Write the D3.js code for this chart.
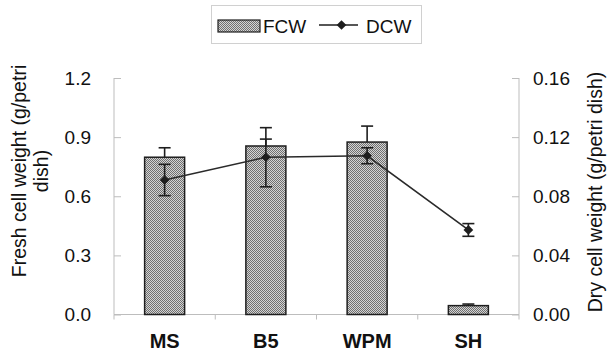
<!DOCTYPE html>
<html>
<head>
<meta charset="utf-8">
<script src="https://cdn.jsdelivr.net/npm/d3@7"></script>
<style>
  body { margin: 0; background: #fff; }
  svg { display: block; font-family: "Liberation Sans", Arial, sans-serif; }
</style>
</head>
<body>
<div id="chart"></div>
<script>
// data
const categories = ["MS", "B5", "WPM", "SH"];
const fcwValues = [0.798, 0.855, 0.875, 0.045];
const fcwErrors = [0.048, 0.035, 0.081, 0.008];
const dcwValues = [0.091, 0.1064, 0.1074, 0.0572];
const dcwErrors = [0.0106, 0.020, 0.0054, 0.0043];
const leftTicks = [0, 0.3, 0.6, 0.9, 1.2];
const rightTicks = [0, 0.04, 0.08, 0.12, 0.16];

const WIDTH = 607;
const HEIGHT = 353;
const PLOT = { left: 114, right: 519, top: 78, bottom: 314.5 };
const AXIS_COLOR = '#bdbdbd';
const INK = '#1e1e1e';

const svg = d3.select('#chart')
    .append('svg')
    .attr('width', WIDTH)
    .attr('height', HEIGHT);

// dithered grey fill like the original
const pat = svg.append('defs').append('pattern')
    .attr('id', 'dither')
    .attr('width', 2).attr('height', 2)
    .attr('patternUnits', 'userSpaceOnUse');
pat.append('rect').attr('width', 2).attr('height', 2).attr('fill', '#d4d4d4');
pat.append('rect').attr('width', 1).attr('height', 1).attr('fill', '#707070');
pat.append('rect').attr('x', 1).attr('y', 1).attr('width', 1).attr('height', 1).attr('fill', '#707070');

const x = d3.scaleBand()
    .domain(categories)
    .range([PLOT.left, PLOT.right])
    .paddingInner(0.605)
    .paddingOuter(0.3025);

const yLeft = d3.scaleLinear().domain([0, 1.2]).range([PLOT.bottom, PLOT.top]);
const yRight = d3.scaleLinear().domain([0, 0.16]).range([PLOT.bottom, PLOT.top]);

// axes
const leftAxis = svg.append('g')
    .attr('transform', `translate(${PLOT.left},0)`)
    .call(d3.axisRight(yLeft).tickValues(leftTicks).tickSize(7));
leftAxis.selectAll('text').remove();
leftAxis.selectAll('line, path').attr('stroke', AXIS_COLOR);
leftAxis.select('path').attr('d', `M0,${PLOT.top}V${PLOT.bottom}`);

const rightAxis = svg.append('g')
    .attr('transform', `translate(${PLOT.right},0)`)
    .call(d3.axisLeft(yRight).tickValues(rightTicks).tickSize(7));
rightAxis.selectAll('text').remove();
rightAxis.selectAll('line, path').attr('stroke', AXIS_COLOR);
rightAxis.select('path').attr('d', `M0,${PLOT.top}V${PLOT.bottom}`);

svg.append('g')
    .selectAll('text')
    .data(leftTicks)
    .join('text')
    .attr('x', 91)
    .attr('y', d => yLeft(d))
    .attr('dy', '0.35em')
    .attr('text-anchor', 'end')
    .attr('font-size', 19)
    .attr('fill', '#111')
    .text(d3.format('.1f'));

svg.append('g')
    .selectAll('text')
    .data(rightTicks)
    .join('text')
    .attr('x', 533)
    .attr('y', d => yRight(d))
    .attr('dy', '0.35em')
    .attr('font-size', 19)
    .attr('fill', '#111')
    .text(d3.format('.2f'));

// bottom axis line with ticks between categories
const bottom = svg.append('g');
bottom.append('line')
    .attr('x1', PLOT.left).attr('x2', PLOT.right)
    .attr('y1', PLOT.bottom).attr('y2', PLOT.bottom)
    .attr('stroke', AXIS_COLOR);
const step = x.step();
bottom.selectAll('line.tick')
    .data(d3.range(categories.length + 1))
    .join('line')
    .attr('class', 'tick')
    .attr('x1', i => PLOT.left + i * step)
    .attr('x2', i => PLOT.left + i * step)
    .attr('y1', PLOT.bottom)
    .attr('y2', PLOT.bottom + 5)
    .attr('stroke', AXIS_COLOR);

svg.append('g')
    .selectAll('text')
    .data(categories)
    .join('text')
    .attr('x', d => x(d) + x.bandwidth() / 2)
    .attr('y', 348)
    .attr('text-anchor', 'middle')
    .attr('font-size', 20)
    .attr('font-weight', 'bold')
    .attr('fill', '#111')
    .text(d => d);

// axis titles
const leftTitle = svg.append('text')
    .attr('transform', 'translate(26,171) rotate(-90)')
    .attr('text-anchor', 'middle')
    .attr('font-size', 19.5)
    .attr('fill', '#111');
leftTitle.append('tspan').attr('x', 0).attr('y', 0).text('Fresh cell weight (g/petri');
leftTitle.append('tspan').attr('x', 0).attr('y', 22).text('dish)');

svg.append('text')
    .attr('transform', 'translate(602,192) rotate(-90)')
    .attr('text-anchor', 'middle')
    .attr('font-size', 19.5)
    .attr('fill', '#111')
    .text('Dry cell weight (g/petri dish)');

// bars
const cx = d => x(d) + x.bandwidth() / 2;
svg.append('g')
    .selectAll('rect')
    .data(categories)
    .join('rect')
    .attr('x', d => x(d))
    .attr('y', (d, i) => yLeft(fcwValues[i]))
    .attr('width', x.bandwidth())
    .attr('height', (d, i) => yLeft(0) - yLeft(fcwValues[i]))
    .attr('fill', 'url(#dither)')
    .attr('stroke', INK)
    .attr('stroke-width', 1.5);

// FCW error bars (plus side only)
const capW = 6;
const fcwErr = svg.append('g').attr('stroke', INK).attr('stroke-width', 1.6);
categories.forEach((c, i) => {
    const top = yLeft(fcwValues[i] + fcwErrors[i]);
    fcwErr.append('line').attr('x1', cx(c)).attr('x2', cx(c))
        .attr('y1', yLeft(fcwValues[i])).attr('y2', top);
    fcwErr.append('line').attr('x1', cx(c) - capW).attr('x2', cx(c) + capW)
        .attr('y1', top).attr('y2', top);
});

// DCW line
const line = d3.line()
    .x((d, i) => cx(categories[i]))
    .y(d => yRight(d));
svg.append('path')
    .datum(dcwValues)
    .attr('d', line)
    .attr('fill', 'none')
    .attr('stroke', '#2a2a2a')
    .attr('stroke-width', 1.6);

// DCW error bars
const dcwErr = svg.append('g').attr('stroke', INK).attr('stroke-width', 1.6);
categories.forEach((c, i) => {
    const hi = yRight(dcwValues[i] + dcwErrors[i]);
    const lo = yRight(dcwValues[i] - dcwErrors[i]);
    dcwErr.append('line').attr('x1', cx(c)).attr('x2', cx(c)).attr('y1', hi).attr('y2', lo);
    [hi, lo].forEach(yy => {
        dcwErr.append('line').attr('x1', cx(c) - capW).attr('x2', cx(c) + capW)
            .attr('y1', yy).attr('y2', yy);
    });
});

// diamonds
const diamond = d3.symbol().type(d3.symbolDiamond2).size(60);
svg.append('g')
    .selectAll('path')
    .data(dcwValues)
    .join('path')
    .attr('d', diamond)
    .attr('transform', (d, i) => `translate(${cx(categories[i])},${yRight(d)})`)
    .attr('fill', INK);

// legend
const legend = svg.append('g');
legend.append('rect')
    .attr('x', 211.5).attr('y', 5.5)
    .attr('width', 210).attr('height', 38)
    .attr('fill', '#fff')
    .attr('stroke', '#d0d0d0');
legend.append('rect')
    .attr('x', 218).attr('y', 20)
    .attr('width', 42).attr('height', 12)
    .attr('fill', 'url(#dither)')
    .attr('stroke', INK)
    .attr('stroke-width', 1.2);
legend.append('text')
    .attr('x', 263).attr('y', 26)
    .attr('dy', '0.35em')
    .attr('font-size', 19)
    .attr('fill', '#111')
    .text('FCW');
legend.append('line')
    .attr('x1', 319).attr('x2', 358)
    .attr('y1', 25).attr('y2', 25)
    .attr('stroke', INK).attr('stroke-width', 1.6);
legend.append('path')
    .attr('d', diamond)
    .attr('transform', 'translate(341.5,25)')
    .attr('fill', INK);
legend.append('text')
    .attr('x', 366).attr('y', 26)
    .attr('dy', '0.35em')
    .attr('font-size', 19)
    .attr('fill', '#111')
    .text('DCW');
</script>
</body>
</html>
